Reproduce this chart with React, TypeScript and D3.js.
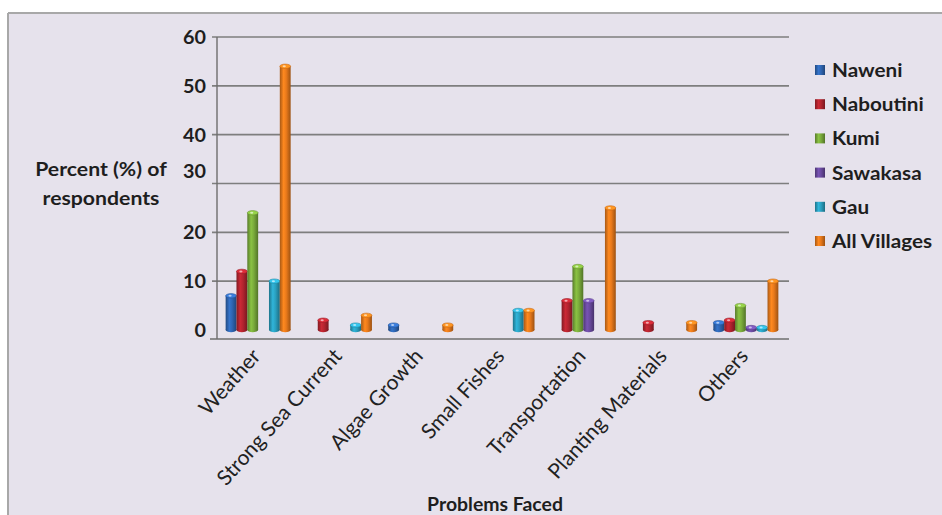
import React from "react";
import * as d3 from "d3";

// Problems faced, percent of respondents per village
const categories = [
  "Weather",
  "Strong Sea Current",
  "Algae Growth",
  "Small Fishes",
  "Transportation",
  "Planting Materials",
  "Others",
];
const seriesNames = ["Naweni", "Naboutini", "Kumi", "Sawakasa", "Gau", "All Villages"];
const naweni = [7, 0, 1, 0, 0, 0, 1.5];
const naboutini = [12, 2, 0, 0, 6, 1.5, 2];
const kumi = [24, 0, 0, 0, 13, 0, 5];
const sawakasa = [0, 0, 0, 0, 6, 0, 0.5];
const gau = [10, 1, 0, 4, 0, 0, 0.5];
const allVillages = [54, 3, 1, 4, 25, 1.5, 10];
const yTicks = [0, 10, 20, 30, 40, 50, 60];

const seriesValues = [naweni, naboutini, kumi, sawakasa, gau, allVillages];
const seriesColors = ["#2f66b3", "#b3242f", "#7aab3b", "#6a4a9f", "#2aa0c0", "#e8791b"];

const W = 942;
const H = 515;
const plotLeft = 217;
const plotRight = 789;
const baseY = 330;
const axisY = 339;
const FONT = "Lato, 'Open Sans', 'Noto Sans', sans-serif";

// the "30" label sits a little above its gridline
const tickNudge: Record<number, number> = { 30: -13 };

type TProps = {
  x: number;
  y: number;
  sx: number;
  size: number;
  bold?: boolean;
  anchor?: "start" | "middle" | "end";
  central?: boolean;
  children: React.ReactNode;
};

// horizontally widened text
function WideText({ x, y, sx, size, bold, anchor = "start", central, children }: TProps) {
  return (
    <text
      transform={`translate(${x},${y}) scale(${sx},1)`}
      textAnchor={anchor}
      dominantBaseline={central ? "central" : undefined}
      fontFamily={FONT}
      fontWeight={bold ? 700 : 400}
      fontSize={size}
      fill="#1e1e1e"
    >
      {children}
    </text>
  );
}

export default function App() {
  const y = d3.scaleLinear().domain([0, 60]).range([baseY, 37]);
  const x = d3.scaleBand<string>().domain(categories).range([plotLeft, plotRight - 3]);
  const xs = d3.scaleBand<string>().domain(seriesNames).range([-32, 33]);
  const bw = xs.bandwidth();

  const grads = seriesColors.map((c, i) => {
    const base = d3.color(c)!;
    return (
      <linearGradient key={i} id={`cyl${i}`} x1="0" x2="1" y1="0" y2="0">
        <stop offset="0" stopColor={base.darker(0.9).formatHex()} />
        <stop offset="0.35" stopColor={base.brighter(0.35).formatHex()} />
        <stop offset="0.6" stopColor={base.formatHex()} />
        <stop offset="1" stopColor={base.darker(1.1).formatHex()} />
      </linearGradient>
    );
  });

  return (
    <div style={{ position: "absolute", left: 0, top: 0 }}>
      <svg width={W} height={H} style={{ display: "block" }}>
        <defs>{grads}</defs>
        <rect x={0} y={0} width={W} height={H} fill="#ffffff" />
        <rect x={8} y={13} width={W - 8} height={H - 13} fill="#e6e2ec" />
        <line x1={8} x2={W} y1={13} y2={13} stroke="#a8a8a8" strokeWidth={2} />
        <line x1={8} x2={8} y1={13} y2={H} stroke="#a8a8a8" strokeWidth={2} />

        {/* gridlines */}
        {yTicks
          .filter((t) => t > 0)
          .map((t) => (
            <line
              key={t}
              x1={plotLeft - 5}
              x2={plotRight}
              y1={y(t)}
              y2={y(t)}
              stroke="#7e7e7e"
              strokeWidth={1.7}
            />
          ))}

        {/* axes */}
        <line x1={plotLeft} x2={plotLeft} y1={y(60)} y2={axisY} stroke="#6e6e6e" strokeWidth={1.4} />
        <line x1={plotLeft - 7} x2={plotRight} y1={axisY} y2={axisY} stroke="#6e6e6e" strokeWidth={1.6} />

        {/* tick labels */}
        {yTicks.map((t) => (
          <WideText key={t} x={206} y={y(t) + (tickNudge[t] || 0)} sx={1.1} size={18} bold anchor="end" central>
            {t}
          </WideText>
        ))}

        {/* bars */}
        {categories.map((cat, ci) =>
          seriesNames.map((s, si) => {
            const v = seriesValues[si][ci];
            if (!v) return null;
            const cx = (x(cat) as number) + x.bandwidth() / 2;
            const bx = cx + (xs(s) as number);
            const top = y(v);
            const col = d3.color(seriesColors[si])!;
            return (
              <g key={`${ci}-${si}`}>
                <ellipse cx={bx + bw / 2} cy={baseY} rx={bw / 2} ry={2.2} fill={`url(#cyl${si})`} />
                <rect x={bx} y={top} width={bw} height={baseY - top} fill={`url(#cyl${si})`} />
                <ellipse
                  cx={bx + bw / 2}
                  cy={top}
                  rx={bw / 2}
                  ry={2.2}
                  fill={col.brighter(0.6).formatHex()}
                  stroke={col.darker(0.4).formatHex()}
                  strokeWidth={0.6}
                />
                <ellipse cx={bx + bw / 2 - 1} cy={top} rx={1.6} ry={1} fill="#ffffff" opacity={0.6} />
              </g>
            );
          })
        )}

        {/* category labels */}
        {categories.map((cat) => {
          const cx = (x(cat) as number) + x.bandwidth() / 2;
          return (
            <text
              key={cat}
              transform={`translate(${cx + 4},${357}) rotate(-48)`}
              textAnchor="end"
              fontFamily={FONT}
              fontSize={21}
              fill="#222"
            >
              {cat}
            </text>
          );
        })}

        {/* axis titles */}
        <WideText x={101} y={176} sx={1.18} size={18} bold anchor="middle">
          Percent (%) of
        </WideText>
        <WideText x={101} y={205} sx={1.18} size={18} bold anchor="middle">
          respondents
        </WideText>
        <WideText x={495} y={511} sx={1.08} size={18} bold anchor="middle">
          Problems Faced
        </WideText>

        {/* legend */}
        {seriesNames.map((s, i) => {
          const ly = 70 + i * 34.2;
          return (
            <g key={s}>
              <rect x={815} y={ly - 5} width={10} height={10} fill={`url(#cyl${i})`} />
              <WideText x={832} y={ly} sx={1.15} size={18} bold central>
                {s}
              </WideText>
            </g>
          );
        })}
      </svg>
    </div>
  );
}
